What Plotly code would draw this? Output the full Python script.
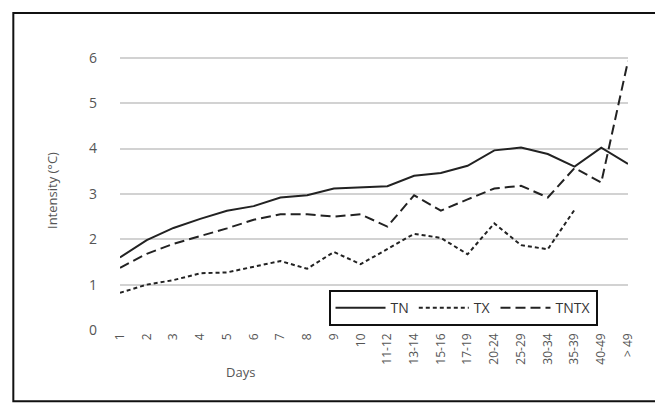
import plotly.graph_objects as go

days = ["1", "2", "3", "4", "5", "6", "7", "8", "9", "10", "11-12", "13-14", "15-16",
        "17-19", "20-24", "25-29", "30-34", "35-39", "40-49", "> 49"]
tn = [1.6, 1.98, 2.25, 2.45, 2.63, 2.73, 2.92, 2.97, 3.12, 3.15, 3.17, 3.4, 3.46,
      3.62, 3.96, 4.02, 3.88, 3.6, 4.02, 3.66]
tx = [0.82, 1.0, 1.1, 1.25, 1.27, 1.4, 1.52, 1.35, 1.72, 1.45, 1.78, 2.12, 2.03,
      1.67, 2.35, 1.87, 1.78, 2.65, None, None]
tntx = [1.37, 1.68, 1.9, 2.07, 2.24, 2.43, 2.55, 2.55, 2.5, 2.55, 2.28, 2.97, 2.63,
        2.88, 3.12, 3.18, 2.92, 3.57, 3.25, 5.93]

fig = go.Figure()
fig.add_trace(go.Scatter(x=days, y=tn, name="TN", mode="lines",
                         line=dict(color="#222", width=2)))
fig.add_trace(go.Scatter(x=days, y=tx, name="TX", mode="lines",
                         line=dict(color="#222", width=2, dash="4px,3px")))
fig.add_trace(go.Scatter(x=days, y=tntx, name="TNTX", mode="lines",
                         line=dict(color="#222", width=2, dash="10px,5px")))

fig.update_layout(
    width=663, height=406, plot_bgcolor="white", paper_bgcolor="white",
    margin=dict(l=112, r=43, t=43, b=84),
    font=dict(family="Open Sans", size=13, color="#555"),
    showlegend=True,
    xaxis=dict(tickangle=-90, showgrid=False, showline=False, ticks="",
               tickfont=dict(size=12), automargin=False),
    yaxis=dict(range=[0, 6.15], dtick=1, showgrid=True, gridcolor="#d2d2d2",
               gridwidth=1.5, zeroline=False, automargin=False,
               tickfont=dict(size=14), ticklabelstandoff=22,
               title=dict(text="Intensity (°C)", font=dict(size=13), standoff=28)),
    legend=dict(orientation="h", x=0.94, xanchor="right", y=0.014, yanchor="bottom",
                bordercolor="#111", borderwidth=2, bgcolor="white",
                font=dict(size=14, color="#333"), itemwidth=50,
                tracegroupgap=0),
    shapes=[dict(type="rect", xref="paper", yref="paper", x0=-0.21, x1=1.073,
                 y0=-0.255, y1=1.136, line=dict(color="#111", width=2))],
    annotations=[dict(text="Days", xref="paper", yref="paper", x=0.205, y=-0.19,
                      showarrow=False, font=dict(size=13, color="#555"))],
)
fig.write_html("out.html")
